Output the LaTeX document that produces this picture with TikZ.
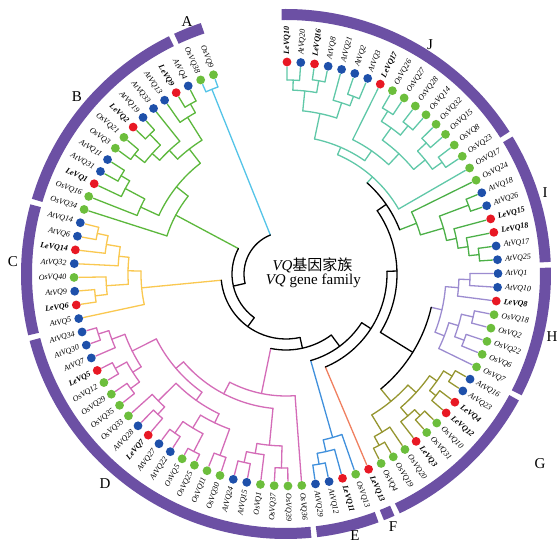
\documentclass[tikz,border=0pt]{standalone}
\usepackage{fontspec}
\setmainfont{Liberation Serif}
\newfontfamily\cjk{Noto Sans CJK SC}
\definecolor{colA}{RGB}{84,196,232}
\definecolor{colB}{RGB}{92,184,60}
\definecolor{colC}{RGB}{250,200,80}
\definecolor{colD}{RGB}{212,108,184}
\definecolor{colE}{RGB}{64,144,220}
\definecolor{colF}{RGB}{240,128,96}
\definecolor{colG}{RGB}{150,150,48}
\definecolor{colH}{RGB}{156,140,208}
\definecolor{colI}{RGB}{76,176,72}
\definecolor{colJ}{RGB}{96,200,168}
\definecolor{bandcol}{RGB}{108,80,164}
\definecolor{kAt}{RGB}{30,80,170}
\definecolor{kLe}{RGB}{232,24,36}
\definecolor{kOs}{RGB}{108,190,60}
\tikzset{
 br/.style={line width=1.3pt, line cap=round},
 cA/.style={br, draw=colA}, cB/.style={br, draw=colB}, cC/.style={br, draw=colC},
 cD/.style={br, draw=colD}, cE/.style={br, draw=colE}, cF/.style={br, draw=colF},
 cG/.style={br, draw=colG}, cH/.style={br, draw=colH}, cI/.style={br, draw=colI},
 cJ/.style={br, draw=colJ}, bk/.style={br, draw=black},
 dotb/.style={circle, inner sep=0pt, minimum size=8.8pt},
 dotAt/.style={dotb, fill=kAt}, dotLe/.style={dotb, fill=kLe}, dotOs/.style={dotb, fill=kOs},
 lbl/.style={inner sep=0pt, font=\fontsize{8}{9}\selectfont\itshape},
 lblAt/.style={lbl}, lblOs/.style={lbl},
 lblLe/.style={inner sep=0pt, font=\fontsize{8}{9}\selectfont\bfseries\itshape},
 bandarc/.style={draw=bandcol, line width=11pt},
 cladelbl/.style={font=\fontsize{15}{15}\selectfont, inner sep=0pt},
 ctext/.style={font=\fontsize{15}{16}\selectfont, inner sep=0pt},
}
\newcommand\cl[5]{%
 \edef\ca{\csname tA@#4\endcsname}\edef\cb{\csname tA@#5\endcsname}%
 \edef\ra{\csname tR@#4\endcsname}\edef\rb{\csname tR@#5\endcsname}%
 \edef\sa{\csname tS@#4\endcsname}\edef\sb{\csname tS@#5\endcsname}%
 \pgfmathsetmacro\cm{(\ca+\cb)/2}%
 \expandafter\xdef\csname tA@#2\endcsname{\cm}%
 \expandafter\xdef\csname tR@#2\endcsname{#3}%
 \expandafter\xdef\csname tS@#2\endcsname{#1}%
 \expandafter\draw\expandafter[\sa] (\ca:\ra pt) -- (\ca:#3pt);
 \expandafter\draw\expandafter[\sb] (\cb:\rb pt) -- (\cb:#3pt);
 \draw[#1] (\ca:#3pt) arc[start angle=\ca, end angle=\cb, radius=#3pt];
}
\newcommand\bandseg[2]{%
 \pgfmathsetmacro\bs{110+3.7333*#1-1.25}%
 \pgfmathsetmacro\be{110+3.7333*#2+1.25}%
 \draw[bandarc] (\bs:259.5pt) arc[start angle=\bs, end angle=\be, radius=259.5pt];
}
\def\leaflist{OsVQ9/Os/cA, OsVQ38/Os/cA, AtVQ4/At/cB, LeVQ9/Le/cB, AtVQ13/At/cB, AtVQ33/At/cB, AtVQ19/At/cB, LeVQ2/Le/cB, OsVQ21/Os/cB, OsVQ3/Os/cB, AtVQ11/At/cB, AtVQ31/At/cB, LeVQ1/Le/cB, OsVQ16/Os/cB, OsVQ34/Os/cB, AtVQ14/At/cC, AtVQ6/At/cC, LeVQ14/Le/cC, AtVQ32/At/cC, OsVQ40/Os/cC, AtVQ9/At/cC, LeVQ6/Le/cC, AtVQ5/At/cC, AtVQ34/At/cD, AtVQ30/At/cD, AtVQ7/At/cD, LeVQ5/Le/cD, OsVQ12/Os/cD, OsVQ29/Os/cD, OsVQ35/Os/cD, OsVQ33/Os/cD, AtVQ28/At/cD, LeVQ7/Le/cD, AtVQ27/At/cD, AtVQ22/At/cD, OsVQ5/Os/cD, OsVQ25/Os/cD, OsVQ11/Os/cD, OsVQ30/Os/cD, AtVQ24/At/cD, AtVQ15/At/cD, OsVQ1/Os/cD, OsVQ37/Os/cD, OsVQ39/Os/cD, OsVQ36/Os/cD, AtVQ29/At/cE, AtVQ12/At/cE, LeVQ11/Le/cE, OsVQ13/Os/cE, LeVQ13/Le/cF, OsVQ4/Os/cG, OsVQ19/Os/cG, OsVQ20/Os/cG, LeVQ3/Le/cG, OsVQ31/Os/cG, OsVQ10/Os/cG, LeVQ12/Le/cG, LeVQ4/Le/cG, AtVQ23/At/cG, AtVQ16/At/cG, OsVQ7/Os/cH, OsVQ6/Os/cH, OsVQ22/Os/cH, OsVQ2/Os/cH, OsVQ18/Os/cH, LeVQ8/Le/cH, AtVQ10/At/cH, AtVQ1/At/cH, AtVQ25/At/cI, AtVQ17/At/cI, LeVQ18/Le/cI, LeVQ15/Le/cI, AtVQ26/At/cI, AtVQ18/At/cI, OsVQ24/Os/cI, OsVQ17/Os/cJ, OsVQ23/Os/cJ, OsVQ8/Os/cJ, OsVQ15/Os/cJ, OsVQ32/Os/cJ, OsVQ14/Os/cJ, OsVQ28/Os/cJ, OsVQ27/Os/cJ, OsVQ26/Os/cJ, LeVQ17/Le/cJ, AtVQ3/At/cJ, AtVQ2/At/cJ, AtVQ21/At/cJ, AtVQ8/At/cJ, LeVQ16/Le/cJ, AtVQ20/At/cJ, LeVQ10/Le/cJ}
\begin{document}
\begin{tikzpicture}[x=1pt,y=1pt]
\useasboundingbox[fill=white] (-286,-269) rectangle (271,274);
% leaf positions
\foreach \nm/\sp/\cs [count=\i from 0] in \leaflist {
 \pgfmathsetmacro\la{110+3.7333*\i}
 \expandafter\xdef\csname tA@\nm\endcsname{\la}
 \expandafter\xdef\csname tR@\nm\endcsname{207}
 \expandafter\xdef\csname tS@\nm\endcsname{\cs}
}
% clade A
\cl{cA}{nA}{199}{OsVQ9}{OsVQ38}
% clade B
\cl{cB}{b1}{195}{AtVQ4}{LeVQ9}
\cl{cB}{b2}{185}{b1}{AtVQ13}
\cl{cB}{b3}{195}{AtVQ19}{LeVQ2}
\cl{cB}{b4}{193}{OsVQ21}{OsVQ3}
\cl{cB}{b5}{180}{b3}{b4}
\cl{cB}{b6}{170}{AtVQ33}{b5}
\cl{cB}{b7}{158}{b2}{b6}
\cl{cB}{b8}{192}{AtVQ11}{AtVQ31}
\cl{cB}{b9}{182}{b8}{LeVQ1}
\cl{cB}{b10}{160}{b9}{OsVQ16}
\cl{cB}{b11}{140}{b7}{b10}
\cl{cB}{b12}{125}{b11}{OsVQ34}
% clade C
\cl{cC}{c1}{193}{AtVQ14}{AtVQ6}
\cl{cC}{c2}{182}{c1}{LeVQ14}
\cl{cC}{c3}{168}{c2}{AtVQ32}
\cl{cC}{c4}{192}{AtVQ9}{LeVQ6}
\cl{cC}{c5}{180}{OsVQ40}{c4}
\cl{cC}{c6}{158}{c3}{c5}
\cl{cC}{c7}{145}{c6}{AtVQ5}
% clade D
\cl{cD}{d1}{197}{AtVQ34}{AtVQ30}
\cl{cD}{d2}{186}{d1}{AtVQ7}
\cl{cD}{d3}{195}{LeVQ5}{OsVQ12}
\cl{cD}{d4}{193}{OsVQ29}{OsVQ35}
\cl{cD}{d5}{182}{d3}{d4}
\cl{cD}{d6}{172}{d2}{d5}
\cl{cD}{d7}{190}{AtVQ28}{LeVQ7}
\cl{cD}{d8}{180}{OsVQ33}{d7}
\cl{cD}{d9}{194}{AtVQ27}{AtVQ22}
\cl{cD}{d10}{200}{OsVQ5}{OsVQ25}
\cl{cD}{d11}{180}{d9}{d10}
\cl{cD}{d12}{193}{OsVQ11}{OsVQ30}
\cl{cD}{d13}{193}{AtVQ24}{AtVQ15}
\cl{cD}{d14}{182}{d13}{OsVQ1}
\cl{cD}{d15}{194}{OsVQ37}{OsVQ39}
\cl{cD}{d16}{172}{d14}{d15}
\cl{cD}{d17}{165}{d11}{d12}
\cl{cD}{d18}{155}{d8}{d17}
\cl{cD}{d19}{145}{d6}{d18}
\cl{cD}{d20}{135}{d19}{d16}
\cl{cD}{d21}{122}{d20}{OsVQ36}
% clade E
\cl{cE}{e1}{193}{AtVQ29}{AtVQ12}
\cl{cE}{e2}{182}{e1}{LeVQ11}
\cl{cE}{e3}{170}{e2}{OsVQ13}
% clade G
\cl{cG}{g1}{195}{OsVQ4}{OsVQ19}
\cl{cG}{g2}{185}{g1}{OsVQ20}
\cl{cG}{g3}{195}{OsVQ31}{OsVQ10}
\cl{cG}{g4}{187}{LeVQ3}{g3}
\cl{cG}{g5}{193}{LeVQ12}{LeVQ4}
\cl{cG}{g6}{195}{AtVQ23}{AtVQ16}
\cl{cG}{g7}{185}{g5}{g6}
\cl{cG}{g8}{176}{g4}{g7}
\cl{cG}{g9}{165}{g2}{g8}
% clade H
\cl{cH}{h1}{184}{AtVQ10}{AtVQ1}
\cl{cH}{h2}{173}{LeVQ8}{h1}
\cl{cH}{h3}{192}{OsVQ2}{OsVQ18}
\cl{cH}{h4}{190}{OsVQ6}{OsVQ22}
\cl{cH}{h5}{180}{h4}{h3}
\cl{cH}{h6}{170}{OsVQ7}{h5}
\cl{cH}{h7}{160}{h6}{h2}
% clade I
\cl{cI}{i1}{195}{AtVQ18}{AtVQ26}
\cl{cI}{i2}{194}{AtVQ25}{AtVQ17}
\cl{cI}{i3}{184}{i2}{LeVQ18}
\cl{cI}{i4}{174}{i3}{LeVQ15}
\cl{cI}{i5}{164}{i4}{i1}
\cl{cI}{i6}{140}{i5}{OsVQ24}
% clade J
\cl{cJ}{j1}{194}{LeVQ10}{AtVQ20}
\cl{cJ}{j2}{196}{LeVQ16}{AtVQ8}
\cl{cJ}{j3}{184}{j1}{j2}
\cl{cJ}{j4}{190}{AtVQ2}{AtVQ3}
\cl{cJ}{j5}{180}{AtVQ21}{j4}
\cl{cJ}{j6}{164}{j3}{j5}
\cl{cJ}{j7}{192}{OsVQ26}{OsVQ27}
\cl{cJ}{j8}{192}{OsVQ28}{OsVQ14}
\cl{cJ}{j9}{180}{j7}{j8}
\cl{cJ}{j10}{192}{OsVQ32}{OsVQ15}
\cl{cJ}{j11}{192}{OsVQ8}{OsVQ23}
\cl{cJ}{j12}{180}{j10}{j11}
\cl{cJ}{j13}{165}{j9}{j12}
\cl{cJ}{j14}{150}{j13}{LeVQ17}
\cl{cJ}{j15}{138}{j6}{j14}
\cl{cJ}{j16}{130}{j15}{OsVQ17}
% backbone (ladder)
\cl{bk}{kGH}{149}{g9}{h7}
\cl{bk}{kIJ}{122}{i6}{j16}
\cl{bk}{kG}{111}{kGH}{kIJ}
\cl{bk}{kF}{101}{LeVQ13}{kG}
\cl{bk}{kE}{90}{e3}{kF}
\cl{bk}{kD}{76}{d21}{kE}
\cl{bk}{kC}{65}{c7}{kD}
\cl{bk}{kB}{54}{b12}{kC}
\cl{bk}{root}{42}{nA}{kB}
% dots and labels
\foreach \nm/\sp/\cs [count=\i from 0] in \leaflist {
 \pgfmathsetmacro\la{110+3.7333*\i}
 \node[dot\sp] (\nm) at (\la:212pt) {};
 \ifdim\la pt<270pt
  \pgfmathsetmacro\lr{\la-180}
  \node[lbl\sp, anchor=east, rotate=\lr] (t-\nm) at (\la:219.5pt) {\nm};
 \else
  \node[lbl\sp, anchor=west, rotate=\la] (t-\nm) at (\la:219.5pt) {\nm};
 \fi
}
% bands
\bandseg{0}{1}\bandseg{2}{14}\bandseg{15}{22}\bandseg{23}{44}\bandseg{45}{48}
\bandseg{49}{49}\bandseg{50}{59}\bandseg{60}{67}\bandseg{68}{75}\bandseg{76}{91}
% clade letters
\node[cladelbl] (LA) at (-99,252) {A};
\node[cladelbl] (LB) at (-209,177) {B};
\node[cladelbl] (LC) at (-273,12) {C};
\node[cladelbl] (LD) at (-181,-210) {D};
\node[cladelbl] (LE) at (69,-262) {E};
\node[cladelbl] (LF) at (107,-253) {F};
\node[cladelbl] (LG) at (254,-190) {G};
\node[cladelbl] (LH) at (266,-63) {H};
\node[cladelbl] (LI) at (259,81) {I};
\node[cladelbl] (LJ) at (144,229) {J};
% centre text
\node[ctext] (ct1) at (26.5,9) {\textit{VQ}{\cjk 基因家族}};
\node[ctext] (ct2) at (27.3,-7) {\textit{VQ} gene family};
\end{tikzpicture}
\end{document}
